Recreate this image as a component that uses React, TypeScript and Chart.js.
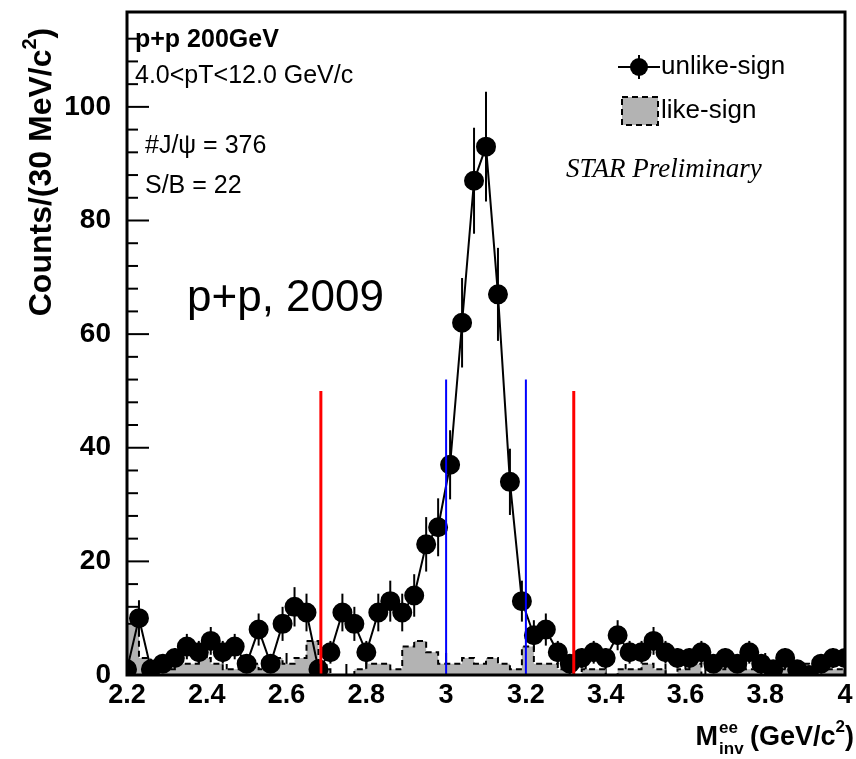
import React, { useEffect, useRef } from "react";
import { Chart, registerables } from "chart.js";
Chart.register(...registerables);

const X0 = 2.2;
const BIN = 0.03;
const unlikeSign = [1, 10, 1, 2, 3, 5, 4, 6, 4, 5, 2, 8, 2, 9, 12, 11, 1, 4, 11, 9, 4, 11, 13, 11, 14, 23, 26, 37, 62, 87, 93, 67, 34, 13, 7, 8, 4, 2, 3, 4, 3, 7, 4, 4, 6, 4, 3, 3, 4, 2, 3, 2, 4, 2, 1, 3, 1, 0, 2, 3, 3];
const likeSign = [9, 3, 1, 1, 2, 2, 3, 2, 1, 1, 2, 1, 3, 2, 3, 6, 1, 0, 0, 1, 2, 2, 1, 5, 6, 4, 2, 2, 3, 2, 3, 2, 1, 5, 2, 2, 1, 0, 1, 1, 0, 1, 1, 2, 1, 0, 1, 2, 0, 1, 2, 1, 1, 0, 1, 1, 2, 0, 1, 1];
const redLines = [2.686, 3.32];
const blueLines = [3.0, 3.2];
const redHeight = 50;
const blueHeight = 52;
const xTicks = [2.2, 2.4, 2.6, 2.8, 3, 3.2, 3.4, 3.6, 3.8, 4];
const yTicks = [0, 20, 40, 60, 80, 100];

const F = "Arial, 'Liberation Sans'";

export default function App() {
  const ref = useRef<HTMLCanvasElement>(null);
  useEffect(() => {
    const points = unlikeSign.map((v, i) => ({ x: +(X0 + BIN * i).toFixed(3), y: v }));
    const steps: { x: number; y: number }[] = [{ x: X0, y: 0 }];
    likeSign.forEach((v, i) => {
      steps.push({ x: X0 + BIN * i, y: v });
      steps.push({ x: X0 + BIN * (i + 1), y: v });
    });
    steps.push({ x: X0 + BIN * likeSign.length, y: 0 });
    const vline = (x: number, h: number, c: string, w: number) => ({
      type: "line" as const,
      data: [{ x, y: 0 }, { x, y: h }],
      borderColor: c,
      borderWidth: w,
      pointRadius: 0,
      fill: false,
    });

    const runs = (ctx: CanvasRenderingContext2D, x: number, y: number, parts: [string, string, number][]) => {
      let cx = x;
      for (const [t, f, dy] of parts) {
        ctx.font = f;
        ctx.fillText(t, cx, y + dy);
        cx += ctx.measureText(t).width;
      }
    };
    const width = (ctx: CanvasRenderingContext2D, parts: [string, string, number][]) => {
      let w = 0;
      for (const [t, f] of parts) { ctx.font = f; w += ctx.measureText(t).width; }
      return w;
    };

    const deco = {
      id: "deco",
      beforeDatasetsDraw(chart: any) {
        const { ctx, chartArea: a, scales } = chart;
        const xs = scales.x, ys = scales.y;
        ctx.save();
        ctx.strokeStyle = "#000";
        ctx.lineWidth = 2;
        for (let v = 0; v <= 115; v += 4) {
          const y = ys.getPixelForValue(v);
          const L = v % 20 === 0 ? 22 : 11;
          ctx.beginPath(); ctx.moveTo(a.left, y); ctx.lineTo(a.left + L, y); ctx.stroke();
        }
        for (let k = 0; k <= 36; k++) {
          const v = 2.2 + 0.05 * k;
          const x = xs.getPixelForValue(v);
          const L = k % 4 === 0 ? 22 : 11;
          ctx.beginPath(); ctx.moveTo(x, a.bottom); ctx.lineTo(x, a.bottom - L); ctx.stroke();
        }
        ctx.restore();
      },
      afterDatasetsDraw(chart: any) {
        const { ctx, chartArea: a, scales } = chart;
        const xs = scales.x, ys = scales.y;
        ctx.save();
        ctx.strokeStyle = "#000";
        ctx.lineWidth = 2;
        points.forEach((p) => {
          const e = Math.sqrt(Math.max(p.y, 1));
          const x = xs.getPixelForValue(p.x);
          ctx.beginPath();
          ctx.moveTo(x, ys.getPixelForValue(p.y + e));
          ctx.lineTo(x, Math.min(a.bottom, ys.getPixelForValue(p.y - e)));
          ctx.stroke();
        });
        ctx.lineWidth = 3;
        ctx.strokeRect(a.left, a.top, a.right - a.left, a.bottom - a.top);
        ctx.lineWidth = 2;
        ctx.fillStyle = "#000";
        ctx.textBaseline = "middle";
        ctx.font = `bold 25px ${F}`;
        ctx.fillText("p+p 200GeV", a.left + 8, 40);
        ctx.font = `25px ${F}`;
        ctx.fillText("4.0<pT<12.0 GeV/c", a.left + 8, 76);
        ctx.fillText("#J/\u03C8 = 376", a.left + 18, 146);
        ctx.fillText("S/B = 22", a.left + 18, 186);
        ctx.font = `44px ${F}`;
        ctx.fillText("p+p, 2009", a.left + 60, 299);
        ctx.font = "italic 27px 'Liberation Serif', 'Times New Roman'";
        ctx.fillText("STAR Preliminary", 566, 170);
        // legend
        ctx.font = `26px ${F}`;
        ctx.beginPath(); ctx.moveTo(618, 67); ctx.lineTo(660, 67); ctx.stroke();
        ctx.beginPath(); ctx.arc(639, 67, 9, 0, Math.PI * 2); ctx.fill();
        ctx.beginPath(); ctx.moveTo(639, 55); ctx.lineTo(639, 79); ctx.stroke();
        ctx.fillText("unlike-sign", 661, 67);
        ctx.fillStyle = "#b3b3b3";
        ctx.fillRect(622, 97, 36, 28);
        ctx.setLineDash([6, 4]);
        ctx.strokeRect(622, 97, 36, 28);
        ctx.setLineDash([]);
        ctx.fillStyle = "#000";
        ctx.fillText("like-sign", 661, 111);
        // y title
        const B = `bold 32px ${F}`, S = `bold 20px ${F}`;
        const yParts: [string, string, number][] = [["Counts/(30 MeV/c", B, 0], ["2", S, -12], [")", B, 0]];
        ctx.save();
        ctx.translate(42, 172);
        ctx.rotate(-Math.PI / 2);
        runs(ctx, -width(ctx, yParts) / 2, 0, yParts);
        ctx.restore();
        // x title
        const XB = `bold 27px ${F}`, XS = `bold 17px ${F}`;
        ctx.textAlign = "left";
        ctx.font = XB;
        const mw = ctx.measureText("M").width;
        const tail: [string, string, number][] = [["(GeV/c", XB, 0], ["2", XS, -11], [")", XB, 0]];
        const x0 = 854 - (mw + 32 + width(ctx, tail));
        runs(ctx, x0, 738, [["M", XB, 0]]);
        ctx.font = XS;
        ctx.fillText("ee", x0 + mw + 1, 728);
        ctx.fillText("inv", x0 + mw + 1, 749);
        runs(ctx, x0 + mw + 32, 738, tail);
        ctx.restore();
      },
    };

    const chart = new Chart(ref.current!, {
      type: "scatter",
      data: {
        datasets: [
          {
            type: "line",
            data: steps,
            borderColor: "#000",
            borderWidth: 2,
            borderDash: [6, 4],
            backgroundColor: "#b3b3b3",
            fill: "origin",
            pointRadius: 0,
            order: 5,
          } as any,
          {
            type: "line",
            data: points,
            borderColor: "#000",
            backgroundColor: "#000",
            borderWidth: 2,
            pointRadius: 9,
            pointHoverRadius: 9,
            fill: false,
            order: 1,
          } as any,
          vline(redLines[0], redHeight, "#ff0000", 3),
          vline(redLines[1], redHeight, "#ff0000", 3),
          vline(blueLines[0], blueHeight, "#0000ff", 2),
          vline(blueLines[1], blueHeight, "#0000ff", 2),
        ],
      },
      plugins: [deco],
      options: {
        animation: false,
        responsive: false,
        events: [],
        layout: { padding: { top: 12, right: 8, left: 0, bottom: 0 } },
        plugins: { legend: { display: false }, tooltip: { enabled: false } },
        scales: {
          x: {
            type: "linear",
            min: 2.2,
            max: 4.0,
            afterBuildTicks: (s: any) => { s.ticks = xTicks.map((v) => ({ value: v })); },
            afterFit: (s: any) => { s.height = 84; },
            grid: { display: false },
            border: { display: false },
            ticks: {
              color: "#000",
              font: { family: F, size: 27, weight: "bold" },
              maxRotation: 0,
              padding: -4,
              callback: (v: any) => String(+(+v).toFixed(1)),
            },
          },
          y: {
            type: "linear",
            min: 0,
            max: 116.7,
            afterBuildTicks: (s: any) => { s.ticks = yTicks.map((v) => ({ value: v })); },
            afterFit: (s: any) => { s.width = 127; s.paddingTop = 0; },
            grid: { display: false },
            border: { display: false },
            ticks: {
              color: "#000",
              font: { family: F, size: 28, weight: "bold" },
              padding: 8,
            },
          },
        },
      } as any,
    });
    return () => chart.destroy();
  }, []);
  return (
    <canvas
      ref={ref}
      width={856}
      height={759}
      style={{ position: "absolute", left: 0, top: 0, width: 856, height: 759, background: "#fff" }}
    />
  );
}
